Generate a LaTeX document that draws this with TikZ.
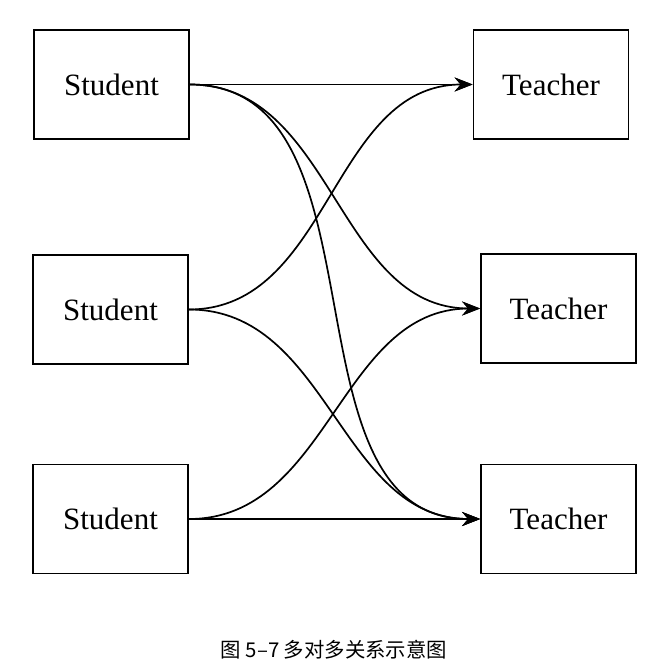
\documentclass[tikz,border=0pt]{standalone}
\usepackage{fontspec}
\setmainfont{Liberation Serif}
\newfontfamily\cjk{Noto Sans CJK SC}
\usepackage{tikz}
\usetikzlibrary{arrows.meta}

\begin{document}
\begin{tikzpicture}[x=0.5pt, y=-0.5pt,
        entity/.style={draw, line width=0.9pt, minimum width=77.5pt, minimum height=54.5pt,
            inner sep=0pt, font=\fontsize{15.5}{18}\selectfont},
        node distance=112.5pt,
        >={Stealth[length=9pt, width=7pt, inset=3pt]},
        every path/.append style={line width=0.85pt}]
        \useasboundingbox (0,0) rectangle (669,672);

        \node[entity] (stu1) at (111.5,84.5) {Student};
        \node[entity, below of=stu1, xshift=-0.5pt] (stu2) {Student};
        \node[entity, below of=stu2, yshift=7.75pt] (stu3) {Student};

        \node[entity, right of=stu1, node distance=219.75pt] (tea1) {Teacher};
        \node[entity, below of=tea1, xshift=3.75pt, yshift=0.5pt] (tea2) {Teacher};
        \node[entity, below of=tea2, yshift=7.25pt] (tea3) {Teacher};

        \draw[->] (stu1) -- (tea1);
        \draw[->] (stu1.east) to[out=0, in=180] (tea2.west);
        \draw[->] (stu1.east) to[out=0, in=180] (tea3.west);
        \draw[->] (stu2.east) to[out=0, in=180] (tea1.west);
        \draw[->] (stu2.east) to[out=0, in=180] (tea3.west);
        \draw[->] (stu3.east) to[out=0, in=180] (tea2.west);
        \draw[->] (stu3) -- (tea3);

        \node (title) at (334,650) {\cjk\fontsize{10.2}{12}\selectfont 图 5–7 多对多关系示意图};
    \end{tikzpicture}
\end{document}
